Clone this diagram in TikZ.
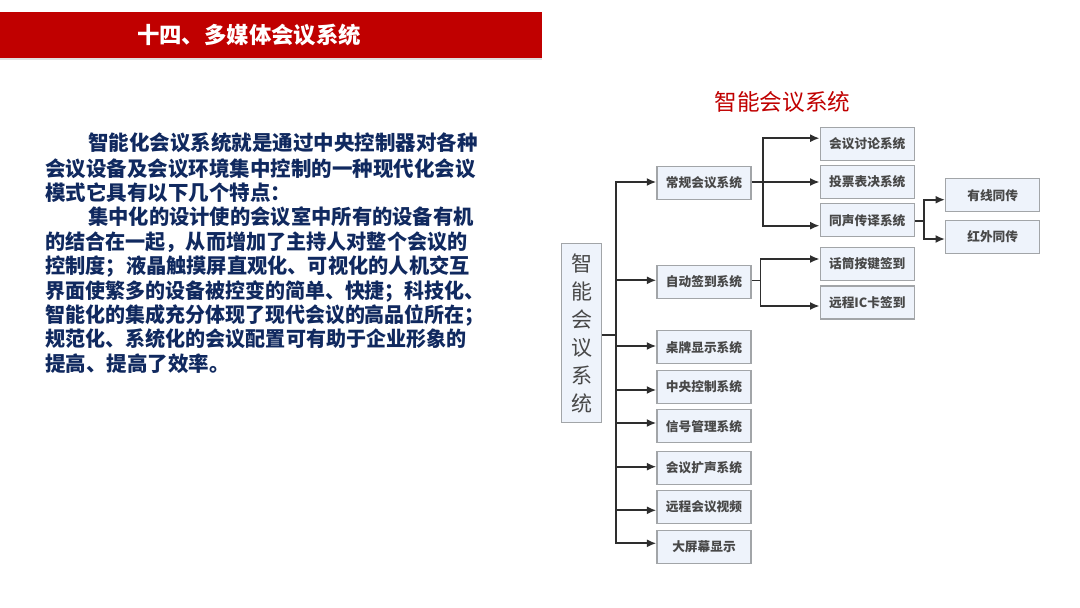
\documentclass[tikz,border=0pt]{standalone}
\usepackage{graphicx}
\usepackage{fontspec}
\setmainfont{Noto Sans CJK SC}
\usetikzlibrary{arrows.meta,calc}
\definecolor{hdr}{HTML}{C00000}
\definecolor{navy}{HTML}{10295F}
\definecolor{boxfill}{HTML}{EEF3FB}
\definecolor{boxline}{HTML}{A2A5A8}
\definecolor{ink}{HTML}{484848}
\definecolor{wire}{HTML}{2E2E2E}
\newcommand{\squeezed}[2]{\scalebox{#1}[1]{#2}}
\tikzset{
  bx/.style={draw=boxline,fill=boxfill,line width=1.3pt,inner sep=0pt,minimum width=94pt,minimum height=33pt,text=ink,font=\fontsize{12.7}{15}\selectfont\bfseries},
  rootbox/.style={draw=boxline,fill=boxfill,line width=1.3pt,inner sep=0pt,minimum width=40pt,minimum height=179pt,text=ink,align=center,font=\fontsize{21}{28}\selectfont},
  wirel/.style={draw=wire,line width=1.9pt},
  stub/.style={draw=wire,line width=1.4pt},
  arr/.style={wirel,-{Latex[length=9.5pt,width=8pt]}},
  hdrtext/.style={text=white,font=\fontsize{22.4}{26}\selectfont\bfseries},
  charttitle/.style={text=hdr,font=\fontsize{22.6}{26}\selectfont},
  bodytext/.style={text=navy,align=left,anchor=north west,inner sep=0pt,font=\fontsize{20.5}{24.4}\selectfont\bfseries}
}
\begin{document}
\begin{tikzpicture}[x=1pt,y=-1pt]
\useasboundingbox (0,0) rectangle (1080,608);
\fill[white] (0,0) rectangle (1080,608);
\fill[black!12] (0,58) rectangle (541.5,59.5);
\node[fill=hdr,minimum width=541.5pt,minimum height=46pt,inner sep=0pt,anchor=north west] (hdrbar) at (0,12) {};
\node[hdrtext] (hdrlabel) at (249,35) {十四、多媒体会议系统};
\node[charttitle] (ctitle) at (782.5,101.8) {智能会议系统};
\node[bodytext] (body) at (45,132.2) {%
\hspace*{43pt}智能化会议系统就是通过中央控制器对各种\\[1.5pt]
会议设备及会议环境集中控制的一种现代化会议\\
模式它具有以下几个特点：\\
\hspace*{43pt}\squeezed{.99}{集中化的设计使的会议室中所有的设备有机}\\
\squeezed{.981}{的结合在一起，从而增加了主持人对整个会议的}\\
\squeezed{.986}{控制度；液晶触摸屏直观化、可视化的人机交互}\\
\squeezed{.975}{界面使繁多的设备被控变的简单、快捷；科技化、}\\
\squeezed{.975}{智能化的集成充分体现了现代会议的高品位所在；}\\
\squeezed{.979}{规范化、系统化的会议配置可有助于企业形象的}\\
提高、提高了效率。};
% boxes
\node[rootbox] (root) at (581.7,333.3) {\raisebox{1.5pt}{智}\\\raisebox{1.5pt}{能}\\\raisebox{1.5pt}{会}\\\raisebox{1.5pt}{议}\\\raisebox{1.5pt}{系}\\\raisebox{1.5pt}{统}};
\node[bx] (a1) at (704,183) {常规会议系统};
\node[bx] (a2) at (704,281.8) {自动签到系统};
\node[bx] (a3) at (704,347.2) {桌牌显示系统};
\node[bx] (a4) at (704,386.8) {中央控制系统};
\node[bx] (a5) at (704,426.2) {信号管理系统};
\node[bx] (a6) at (704,467.8) {会议扩声系统};
\node[bx] (a7) at (704,507.2) {远程会议视频};
\node[bx] (a8) at (704,546.7) {大屏幕显示};
\node[bx] (b1) at (867.3,143.8) {会议讨论系统};
\node[bx] (b2) at (867.3,182) {投票表决系统};
\node[bx] (b3) at (867.3,220.3) {同声传译系统};
\node[bx] (b4) at (867.3,264) {话筒按键签到};
\node[bx] (b5) at (867.3,302.5) {远程IC卡签到};
\node[bx] (c1) at (992.7,195.2) {有线同传};
\node[bx] (c2) at (992.7,236.8) {红外同传};
% junctions
\coordinate (rj) at (616.3,335);
\coordinate (t1) at (616.3,182);
\coordinate (t2) at (616.3,280.3);
\coordinate (t3) at (616.3,346);
\coordinate (t4) at (616.3,390);
\coordinate (t5) at (616.3,423);
\coordinate (t6) at (616.3,466.7);
\coordinate (t7) at (616.3,510.3);
\coordinate (t8) at (616.3,543.3);
\coordinate (u1) at (763.3,138.2);
\coordinate (u2) at (763.3,182);
\coordinate (u3) at (763.3,225.7);
\coordinate (v1) at (760.5,259);
\coordinate (v2) at (760.5,280.3);
\coordinate (v3) at (760.5,306);
\coordinate (w1) at (924,199.7);
\coordinate (w2) at (924,221);
\coordinate (w3) at (924,239);
% connectors
\draw[stub] (root.east |- rj) -- (rj);
\draw[wirel,line cap=rect] (t1) -- (t8);
\foreach \t/\b in {t1/a1,t2/a2,t3/a3,t4/a4,t5/a5,t6/a6,t7/a7,t8/a8}
  \draw[arr] (\t) -- (\t -| \b.west);
\draw[stub] (a1.east |- u2) -- (u2);
\draw[wirel,line cap=rect] (u1) -- (u3);
\foreach \t/\b in {u1/b1,u2/b2,u3/b3}
  \draw[arr] (\t) -- (\t -| \b.west);
\draw[stub] (a2.east |- v2) -- (v2);
\draw[wirel,line cap=rect] (v1) -- (v3);
\foreach \t/\b in {v1/b4,v3/b5}
  \draw[arr] (\t) -- (\t -| \b.west);
\draw[stub] (b3.east |- w2) -- (w2);
\draw[wirel,line cap=rect] (w1) -- (w3);
\foreach \t/\b in {w1/c1,w3/c2}
  \draw[arr] (\t) -- (\t -| \b.west);
\end{tikzpicture}
\end{document}
